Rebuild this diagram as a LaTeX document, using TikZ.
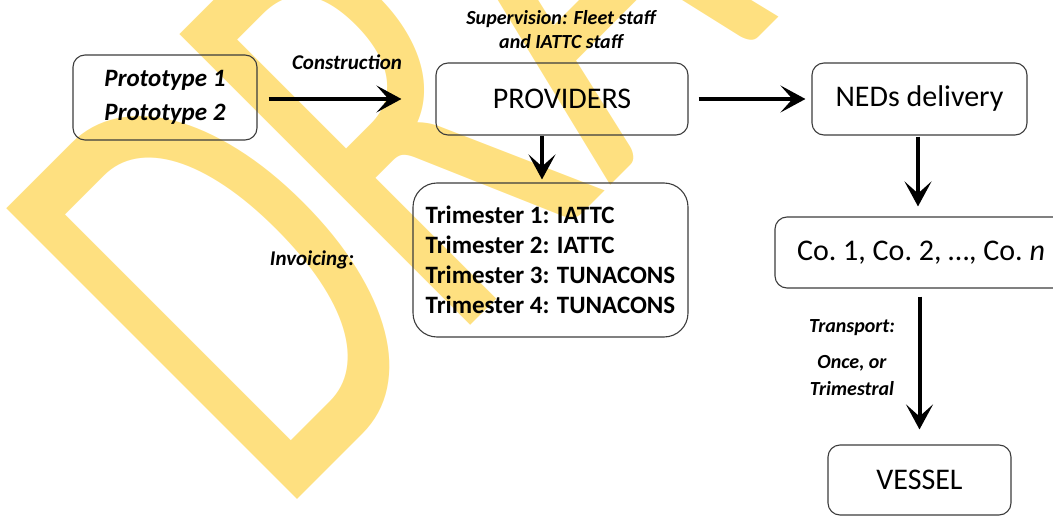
\documentclass[tikz,border=0pt]{standalone}
\usepackage{fontspec}
\setmainfont{Carlito}
\newfontfamily\wmfont{Carlito}
\usetikzlibrary{arrows.meta}
\definecolor{wmyellow}{RGB}{254,224,128}
\definecolor{boxgray}{RGB}{60,60,60}
\begin{document}
\begin{tikzpicture}[x=1pt,y=-1pt,
  box/.style={draw=boxgray, line width=1.1pt, rounded corners=12pt, inner sep=0pt, align=center},
  arr/.style={line width=4pt, -{Stealth[length=25pt,width=27pt,inset=12pt]}},
  lab/.style={font=\fontsize{20}{24}\selectfont\bfseries\itshape, align=center, inner sep=0pt},
  wm/.style={text=wmyellow, font=\wmfont\fontsize{641}{641}\selectfont, rotate=45, xscale=0.65, anchor=base west, inner sep=0pt}]
\useasboundingbox (0,0) rectangle (1053,516);
% watermark
\node[wm] (wmD) at (277,520) {D};
\node[wm] (wmR) at (449.3,346.7) {RAFT};
% boxes
\node[box, minimum width=184pt, minimum height=85pt, font=\fontsize{25}{34}\selectfont\bfseries\itshape] (proto) at (165,97.5) {Prototype 1\\Prototype 2};
\node[box, minimum width=252pt, minimum height=72pt, font=\fontsize{30}{36}\selectfont] (prov) at (562,99) {PROVIDERS};
\node[box, minimum width=215pt, minimum height=72pt, font=\fontsize{30}{36}\selectfont] (neds) at (919.5,99) {NEDs delivery};
\node[box, minimum width=292pt, minimum height=71pt, font=\fontsize{30}{36}\selectfont] (co) at (921,252.5) {Co.~1, Co.~2, …, Co.~\textit{n}};
\node[box, rounded corners=24pt, minimum width=275pt, minimum height=154pt, align=left, font=\fontsize{25}{30}\selectfont\bfseries] (trim) at (550.5,260) {Trimester 1: IATTC\\Trimester 2: IATTC\\Trimester 3: TUNACONS\\Trimester 4: TUNACONS};
\node[box, minimum width=183pt, minimum height=70pt, font=\fontsize{30}{36}\selectfont] (vessel) at (919.5,480) {VESSEL};
% labels
\node[lab, font=\fontsize{21}{24}\selectfont\bfseries\itshape] (construction) at (347,62) {Construction};
\node[lab] (superv) at (561,30) {Supervision: Fleet staff\\and IATTC staff};
\node[lab, font=\fontsize{21}{24}\selectfont\bfseries\itshape] (invoicing) at (312,260) {Invoicing:};
\node[lab] (transport) at (852,328) {Transport:};
\node[lab, font=\fontsize{20}{27}\selectfont\bfseries\itshape] (once) at (852,375.5) {Once, or\\Trimestral};
% arrows
\draw[arr, shorten <=11pt, shorten >=34pt] (proto.east |- prov.west) -- (prov.west);
\draw[arr, shorten <=10pt, shorten >=6pt] (prov.east) -- (neds.west);
\draw[arr, shorten >=3pt] ([xshift=-20pt]prov.south) -- ([xshift=-20pt]prov.south |- trim.north);
\draw[arr, shorten <=1pt, shorten >=10pt] ([xshift=-1.5pt]neds.south) -- ([xshift=-1.5pt]neds.south |- co.north);
\draw[arr, shorten <=8pt, shorten >=15pt] (co.south -| vessel.north) -- (vessel.north);
\end{tikzpicture}
\end{document}
